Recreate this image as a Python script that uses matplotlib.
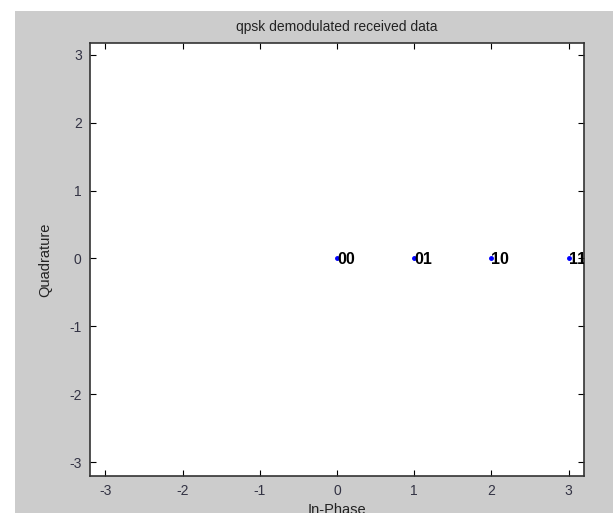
import matplotlib
matplotlib.use("Agg")
import matplotlib.pyplot as plt
from matplotlib.patches import Rectangle

plt.rcParams['font.family'] = ['Liberation Sans', 'DejaVu Sans']
plt.rcParams['axes.unicode_minus'] = False

# demodulated symbols
in_phase = [0, 1, 2, 3]
quadrature = [0, 0, 0, 0]
bits = ['00', '01', '10', '11']

ticks = [-3, -2, -1, 0, 1, 2, 3]

W, H = 613, 513
fig = plt.figure(figsize=(W / 100, H / 100), dpi=100, facecolor='white')

# matlab-style grey figure area (screenshot has white strip top/left)
fig.patches.append(Rectangle((15 / W, 0), 1 - 15 / W, 1 - 11 / H,
                             transform=fig.transFigure, facecolor='#cccccc',
                             edgecolor='none', zorder=-10))

left, right, top, bottom = 90, 584, 43, 476
ax = fig.add_axes([left / W, 1 - bottom / H, (right - left) / W, (bottom - top) / H])
ax.set_facecolor('white')

ax.plot(in_phase, quadrature, '.', color='blue', markersize=5)
for x, y, b in zip(in_phase, quadrature, bits):
    ax.text(x, y, b, fontsize=11.5, fontweight='bold', color='black',
            ha='left', va='center_baseline', clip_on=True)

ax.set_xlim(-3.2, 3.2)
ax.set_ylim(-3.2, 3.17)
ax.set_xticks(ticks)
ax.set_yticks(ticks)
ax.tick_params(direction='in', top=True, right=True, length=4, width=0.8,
               labelsize=10, labelcolor='#333344', pad=6)
for s in ax.spines.values():
    s.set_linewidth(1.2)
    s.set_color('#333333')

ax.set_title('qpsk demodulated received data', fontsize=10, color='#222222', pad=9)
ax.set_xlabel('In-Phase', fontsize=10.5, color='#222222', labelpad=3)
ax.set_ylabel('Quadrature', fontsize=10.5, color='#222222', labelpad=12)

fig.savefig('out.png', dpi=100, facecolor=fig.get_facecolor())
